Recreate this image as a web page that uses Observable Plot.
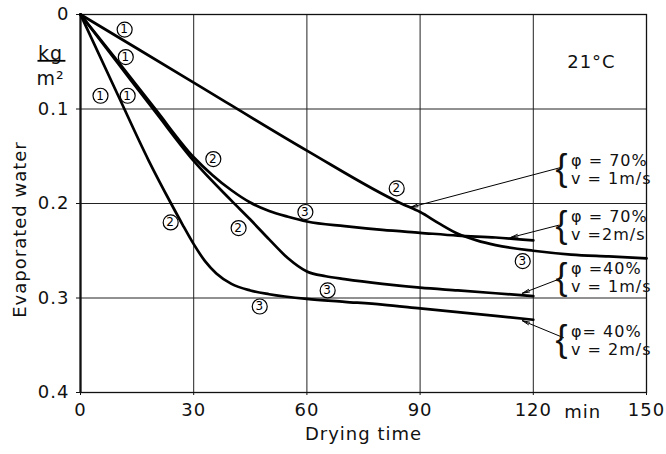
<!DOCTYPE html>
<html><head><meta charset="utf-8">
<script src="https://cdn.jsdelivr.net/npm/d3@7"></script>
<script src="https://cdn.jsdelivr.net/npm/@observablehq/plot@0.6"></script>
<style>
body{margin:0;background:#fff;}
svg text{letter-spacing:1px;}
g[aria-label="temp"] text{letter-spacing:4px;}
g[aria-label="xlabel"] text, g[aria-label="ylabel"] text{letter-spacing:2px;}
g[aria-label="anno"] text{letter-spacing:0.4px;}
</style></head><body><div id="chart"></div>
<script>
// φ = 70 %, v = 1 m/s
const tA = [0, 30, 60, 85, 90, 95, 100, 105, 110, 120, 130, 140, 150];
const vA = [0, 0.072, 0.144, 0.200, 0.209, 0.221, 0.232, 0.239, 0.244, 0.250, 0.254, 0.256, 0.258];
// φ = 70 %, v = 2 m/s
const tB = [0, 10, 20, 30, 35, 40, 45, 50, 55, 60, 70, 80, 90, 100, 110, 120];
const vB = [0, 0.050, 0.101, 0.151, 0.170, 0.186, 0.199, 0.208, 0.214, 0.219, 0.224, 0.228, 0.231, 0.234, 0.236, 0.239];
// φ = 40 %, v = 1 m/s
const tC = [0, 10, 20, 30, 40, 45, 50, 55, 60, 65, 70, 80, 90, 100, 110, 120];
const vC = [0, 0.052, 0.104, 0.155, 0.197, 0.217, 0.238, 0.258, 0.272, 0.277, 0.280, 0.285, 0.289, 0.292, 0.295, 0.298];
// φ = 40 %, v = 2 m/s
const tD = [0, 10, 18, 24, 27, 30, 33, 36, 40, 45, 50, 60, 70, 80, 90, 100, 110, 120];
const vD = [0, 0.086, 0.154, 0.200, 0.222, 0.243, 0.261, 0.274, 0.285, 0.292, 0.296, 0.301, 0.304, 0.307, 0.311, 0.315, 0.319, 0.323];

const seriesNames = ["A", "B", "C", "D"];
const xTicks = [0, 30, 60, 90, 120, 150];
const yTicks = [0, 0.1, 0.2, 0.3, 0.4];

// circled stage numbers
const markT = [11.7, 83.8, 117.2, 12, 35.2, 59.6, 12.5, 41.9, 65.5, 5.3, 23.9, 47.5];
const markV = [0.016, 0.184, 0.261, 0.045, 0.153, 0.209, 0.086, 0.226, 0.292, 0.086, 0.220, 0.309];
const markNum = ["1", "2", "3", "1", "2", "3", "1", "2", "3", "1", "2", "3"];

// condition annotations
const annoLine1 = ["φ = 70%", "φ = 70%", "φ =40%", "φ= 40%"];
const annoLine2 = ["v = 1m/s", "v =2m/s", "v = 1m/s", "v = 2m/s"];
const annoT = [130.0, 130.0, 130.0, 130.0];
const annoV = [0.164, 0.224, 0.279, 0.345];
const arrowT1 = [127.2, 126.7, 127.5, 128.0];
const arrowV1 = [0.162, 0.223, 0.279, 0.342];
const arrowT2 = [87.5, 114, 117.1, 117.1];
const arrowV2 = [0.204, 0.236, 0.295, 0.324];

// unit fraction bar (kg / m²) in the left margin
const unitBarT = [-11.4, -4.0];
const unitBarV = [0.0490];

const allT = [tA, tB, tC, tD];
const allV = [vA, vB, vC, vD];
const rows = seriesNames.flatMap((s, k) => allT[k].map((t, i) => ({s, t, v: allV[k][i]})));
const marks = markT.map((t, i) => ({t, v: markV[i], n: markNum[i]}));
const annos = annoLine1.map((l1, i) => ({l1, l2: annoLine2[i], t: annoT[i], v: annoV[i], x1: arrowT1[i], y1: arrowV1[i], x2: arrowT2[i], y2: arrowV2[i]}));

const chart = Plot.plot({
  width: 666, height: 454,
  marginLeft: 80, marginRight: 20, marginTop: 14, marginBottom: 62,
  style: {fontFamily: "DejaVu Sans", background: "#fff", color: "#111"},
  x: {domain: [0, 150]},
  y: {domain: [0, 0.4], reverse: true},
  marks: [
    Plot.gridX(xTicks, {stroke: "#222", strokeOpacity: 1, strokeWidth: 1}),
    Plot.gridY(yTicks, {stroke: "#222", strokeOpacity: 1, strokeWidth: 1}),
    Plot.frame({stroke: "#111", strokeWidth: 1.3}),
    Plot.ruleX([0], {stroke: "#111", strokeWidth: 2.2}),
    Plot.axisX(xTicks, {tickSize: 3, tickPadding: 8, fontSize: 18, label: null, tickFormat: d => String(d)}),
    Plot.axisY(yTicks, {tickSize: 4, tickPadding: 7, fontSize: 18, label: null, tickFormat: d => d === 0 ? "0" : d.toFixed(1)}),
    Plot.text(["min"], {x: 120, y: 0.4, dx: 31, dy: 20, textAnchor: "start", fontSize: 18}),
    Plot.text(["Drying time"], {frameAnchor: "bottom", dy: 47, fontSize: 18, ariaLabel: "xlabel"}),
    Plot.text(["Evaporated water"], {frameAnchor: "left", dx: -60, dy: 26, rotate: -90, textAnchor: "middle", fontSize: 18, ariaLabel: "ylabel"}),
    Plot.text(["kg"], {frameAnchor: "top-left", dx: -30, dy: 32, textAnchor: "middle", fontSize: 19}),
    Plot.link(unitBarV, {x1: unitBarT[0], x2: unitBarT[1], y1: d => d, y2: d => d, stroke: "#000", strokeWidth: 1.8}),
    Plot.text(["m²"], {frameAnchor: "top-left", dx: -30, dy: 57, textAnchor: "middle", fontSize: 19}),
    Plot.text(["21°C"], {x: 135.4, y: 0.05, fontSize: 18, ariaLabel: "temp"}),
    Plot.line(rows, {x: "t", y: "v", z: "s", stroke: "#000", strokeWidth: 2.7, curve: "monotone-x"}),
    Plot.dot(marks, {x: "t", y: "v", r: 7.5, fill: "#fff", stroke: "#000", strokeWidth: 1.2}),
    Plot.text(marks, {x: "t", y: "v", text: "n", fontSize: 12, fill: "#000"}),
    Plot.arrow(annos, {x1: "x1", y1: "y1", x2: "x2", y2: "y2", stroke: "#000", strokeWidth: 1, headLength: 11, headAngle: 22}),
    Plot.text(annos, {x: "t", y: "v", text: () => "{", fontSize: 36, fontFamily: "Liberation Sans", dx: -9, dy: -1}),
    Plot.text(annos, {x: "t", y: "v", text: "l1", textAnchor: "start", fontSize: 16, dy: -9, ariaLabel: "anno"}),
    Plot.text(annos, {x: "t", y: "v", text: "l2", textAnchor: "start", fontSize: 16, dy: 9, ariaLabel: "anno"})
  ]
});
document.getElementById("chart").append(chart);
</script></body></html>
